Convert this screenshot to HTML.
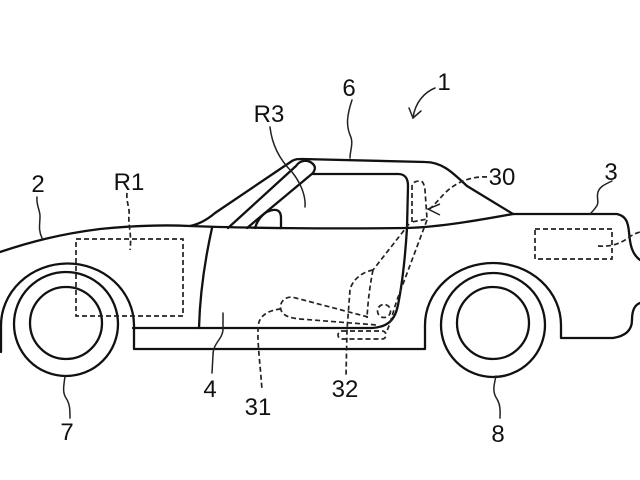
<!DOCTYPE html>
<html>
<head>
<meta charset="utf-8">
<style>
html,body{margin:0;padding:0;background:#fff;}
svg{display:block;}
text{font-family:"Liberation Sans",sans-serif;font-size:24px;fill:#111;text-anchor:middle;}
</style>
</head>
<body>
<svg width="640" height="480" viewBox="0 0 640 480" xmlns="http://www.w3.org/2000/svg">
<rect width="640" height="480" fill="#fff"/>
<g fill="none" stroke="#111" stroke-width="2.3" stroke-linecap="round" stroke-linejoin="round">
  <!-- hood + belt + rear deck + rear upper -->
  <path d="M0,252 C30,242 60,234 100,229 C140,225 170,225 190,226 C240,228 330,229 407,228 C440,227 480,220 513,214 L617,214 C626,216 628,222 629,232 C630,245 632,254 640,260"/>
  <!-- windshield outer + roof -->
  <path d="M190,226 C200,224 208,219 215,213 L292,161 C295,159 298,159 302,159 L425,162 C442,162 452,172 467,186 L513,214"/>
  <!-- A-pillar tube -->
  <path d="M228,228 L296,166 C300,160 308,159 313,164 C316,167 315,170 313,173 L247,228"/>
  <!-- window top, door rear edge, upper sill -->
  <path d="M313,174 L398,174 C405,174 408,178 408,186 L407,228 C405,260 402,285 398,305 C395,320 388,327 372,328 L133,328"/>
  <!-- door front edge -->
  <path d="M212,228 C206,255 200,290 199,328"/>
  <!-- mirror -->
  <path d="M255,228 C258,218 265,211 273,210 C279,209 281,213 281,218 L281,228"/>
  <!-- front arch + lower sill + rear arch + rear lower -->
  <path d="M1,352 L1,326 A66.5,62 0 0 1 134,325 L134,349 L425,349 L425,325 A68,62 0 0 1 561,325 L561,338 L613,338 C626,336 632,330 632,320 C632,311 634,305 640,303"/>
  <!-- tires -->
  <circle cx="66" cy="324" r="52"/>
  <circle cx="66" cy="323" r="36"/>
  <circle cx="493" cy="325" r="52"/>
  <circle cx="493" cy="323" r="36"/>
</g>

<!-- dashed hidden elements -->
<g fill="none" stroke="#222" stroke-width="1.7" stroke-dasharray="5 3" stroke-linecap="butt">
  <rect x="76" y="239" width="107" height="77"/>
  <rect x="535" y="229" width="77" height="30"/>
  <path d="M598,246 C610,247 620,244 628,238 C632,235 636,233 640,232"/>
  <!-- headrest -->
  <path d="M412,222 L412,187 C412,182 416,181 420,181 C423,181 424,184 425,190 L427,219 Z"/>
  <!-- diagonal -->
  <path d="M409,224 L373,270"/>
  <!-- seatback front + 32 leader -->
  <path d="M373,270 C362,272 352,280 350,290 L347,330 L346,376"/>
  <!-- seatback rear -->
  <path d="M373,270 C370,285 368,300 367,318"/>
  <!-- headrest to rail -->
  <path d="M427,220 L397,300 C393,312 390,325 386,333"/>
  <!-- rail -->
  <rect x="338" y="331" width="48" height="8" rx="4"/>
  <!-- cushion -->
  <path d="M368,317 L292,297 C283,297 279,304 281,310 C283,316 290,318 300,319 L377,325"/>
  <circle cx="384" cy="311" r="6.5"/>
  <!-- 31 leader -->
  <path d="M281,309 C270,310 262,314 259,322 C256,335 260,360 262,390"/>
  <!-- 30 leader -->
  <path d="M487,177 C470,176 455,183 445,193 C438,200 434,206 428,210"/>
  <!-- R1 leader -->
  <path d="M127,193 C126,202 130,208 129,215 C128,225 132,235 130,250"/>
</g>
<path d="M440,204 L428,209 L440,215" fill="none" stroke="#222" stroke-width="1.5"/>

<!-- solid leaders -->
<g fill="none" stroke="#222" stroke-width="1.5" stroke-linecap="round">
  <path d="M37,197 C36,205 40,210 40,216 C40,224 38,230 42,238"/>
  <path d="M270,127 C272,145 280,160 292,172 C300,182 306,195 305,207"/>
  <path d="M352,100 C347,115 346,125 350,135 C354,143 350,150 350,158"/>
  <path d="M435,88 C425,92 415,102 413,118"/>
  <path d="M409,108 L413,118 L421,111"/>
  <path d="M612,181 C606,184 600,186 598,192 C596,198 600,202 596,207 C594,210 592,212 590,214"/>
  <path d="M223,313 L223,330 C222,340 213,343 213,355 L212,373"/>
  <path d="M65,376 C64,385 62,392 66,398 C70,404 70,410 70,418"/>
  <path d="M496,376 C494,385 492,392 497,399 C501,406 500,412 500,418"/>
</g>

<!-- labels -->
<text x="38" y="192">2</text>
<text x="129" y="190">R1</text>
<text x="269" y="122">R3</text>
<text x="349" y="96">6</text>
<text x="444" y="90">1</text>
<text x="502" y="185">30</text>
<text x="611" y="180">3</text>
<text x="210" y="397">4</text>
<text x="258" y="415">31</text>
<text x="345" y="397">32</text>
<text x="67" y="440">7</text>
<text x="498" y="442">8</text>
</svg>
</body>
</html>
